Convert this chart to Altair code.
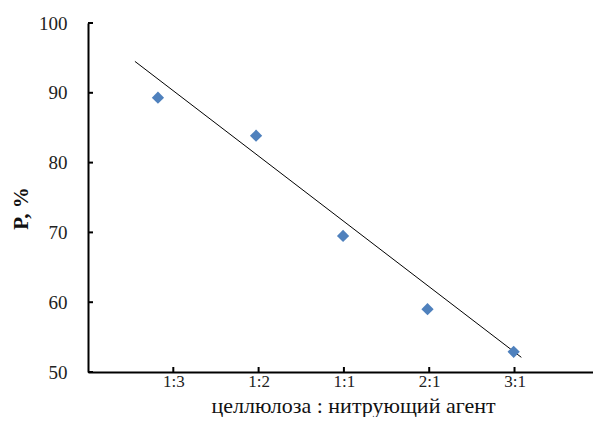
import json
import altair as alt
import pandas as pd

# categories (x tick labels) and measured values
ratio_labels = ["1:3", "1:2", "1:1", "2:1", "3:1"]
tick_pos = [1, 2, 3, 4, 5]
point_x = [0.82, 1.97, 2.99, 3.98, 4.99]
point_y = [89.3, 83.85, 69.5, 59.0, 52.9]
trend_x = [0.55, 5.08]
trend_y = [94.5, 52.1]
y_ticks = [50, 60, 70, 80, 90, 100]
x_tick_marks = [1, 2, 3, 4, 5]

W, H = 505, 349
FONT = "Times New Roman"

xscale = alt.Scale(domain=[0, 5.92], nice=False, zero=False)
yscale = alt.Scale(domain=[50, 100], nice=False, zero=False)

label_arr = json.dumps([""] + ratio_labels + [""])

xaxis = alt.Axis(
    values=tick_pos, labelExpr=f"{label_arr}[datum.value]",
    title="целлюлоза : нитрующий агент",
    titleFont=FONT, titleFontSize=22, titleFontWeight="normal", titleColor="#111",
    titleX=265, titleY=40, titleBaseline="alphabetic", titleAlign="center",
    labelFont=FONT, labelFontSize=17, labelColor="#222", labelPadding=1,
    ticks=False, grid=False, domainColor="#000", domainWidth=2,
)
yaxis = alt.Axis(
    values=y_ticks, title="P, %",
    titleFont=FONT, titleFontSize=21, titleFontWeight="bold", titleColor="#111",
    titleAngle=270, titleX=-61, titleY=185, titleAlign="center", titleBaseline="alphabetic",
    labelFont=FONT, labelFontSize=19, labelColor="#222", labelPadding=21,
    ticks=False, grid=False, domainColor="#000", domainWidth=2,
)

pts = pd.DataFrame({"x": point_x, "y": point_y, "label": ratio_labels})
trend = pd.DataFrame({"x": trend_x, "y": trend_y})
yt = pd.DataFrame({"y": y_ticks})
xt = pd.DataFrame({"x": x_tick_marks})

points = alt.Chart(pts).mark_point(
    shape="diamond", filled=True, size=150, color="#4F81BD", opacity=1
).encode(
    x=alt.X("x:Q", scale=xscale, axis=xaxis),
    y=alt.Y("y:Q", scale=yscale, axis=yaxis),
)

line = alt.Chart(trend).mark_line(color="#000", strokeWidth=1).encode(
    x=alt.X("x:Q", scale=xscale, axis=xaxis),
    y=alt.Y("y:Q", scale=yscale, axis=yaxis),
)

ytick_rules = alt.Chart(yt).mark_rule(color="#000", strokeWidth=2).encode(
    y=alt.Y("y:Q", scale=yscale, axis=yaxis),
    x=alt.value(0), x2=alt.value(5),
)

xtick_rules = alt.Chart(xt).mark_rule(color="#000", strokeWidth=2).encode(
    x=alt.X("x:Q", scale=xscale, axis=xaxis),
    y=alt.value(H), y2=alt.value(H - 5),
)

chart = alt.layer(line, points, ytick_rules, xtick_rules).properties(
    width=W, height=H,
    background="white",
    autosize=alt.AutoSizeParams(type="none"),
    padding={"left": 80, "top": 15, "right": 0, "bottom": 45},
).configure_view(stroke=None)

chart.save("out.html", embed_options={"renderer": "svg", "actions": False})
